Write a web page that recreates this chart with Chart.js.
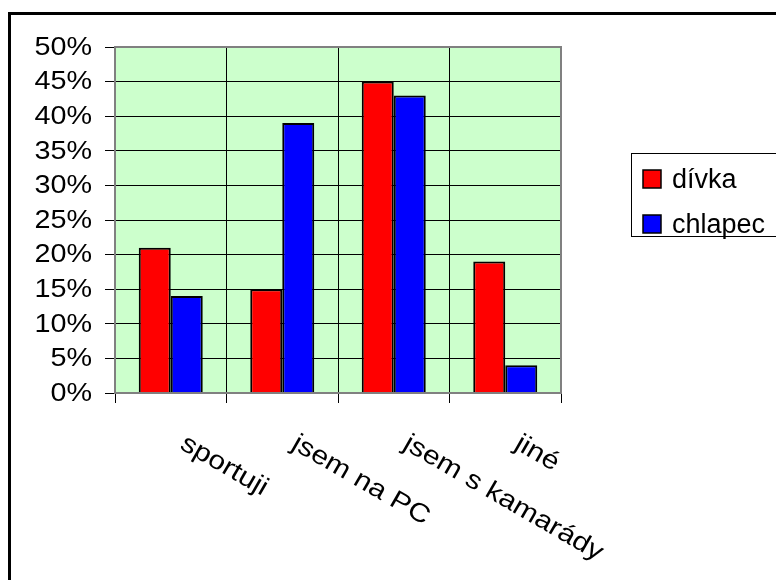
<!DOCTYPE html>
<html>
<head>
<meta charset="utf-8">
<script src="https://cdn.jsdelivr.net/npm/chart.js@4/dist/chart.umd.min.js"></script>
<style>
  html, body { margin: 0; padding: 0; background: #ffffff; }
  #wrap { width: 776px; height: 580px; }
</style>
</head>
<body>
<div id="wrap"><canvas id="c" width="776" height="580"></canvas></div>
<script>
// Co děti dělají ve volném čase – podíl odpovědí podle pohlaví
const categories = ['sportuji', 'jsem na PC', 'jsem s kamarády', 'jiné'];
const seriesNames = ['dívka', 'chlapec'];
const divka = [21, 15, 45, 19];
const chlapec = [14, 39, 43, 4];
const yTicks = [0, 5, 10, 15, 20, 25, 30, 35, 40, 45, 50];

const FONT = "'Liberation Sans', Arial, sans-serif";
const STRETCH = 1.15; // text is set slightly wide

// Frame, plot background, axis texts and legend
const decor = {
  id: 'decor',
  beforeDraw(chart) {
    const { ctx, chartArea: a } = chart;
    ctx.save();
    ctx.fillStyle = '#ffffff';
    ctx.fillRect(0, 0, chart.width, chart.height);
    ctx.fillStyle = '#CCFFCC';
    ctx.fillRect(a.left, a.top, a.right - a.left, a.bottom - a.top);
    ctx.restore();
  },
  afterDraw(chart) {
    const { ctx, chartArea: a } = chart;
    ctx.save();
    // outer frame
    ctx.strokeStyle = '#000000';
    ctx.lineWidth = 3;
    ctx.strokeRect(9.5, 13.5, 900, 700);

    // plot area border
    ctx.strokeStyle = '#808080';
    ctx.lineWidth = 2;
    ctx.strokeRect(a.left, a.top, a.right - a.left, a.bottom - a.top);

    ctx.fillStyle = '#000000';

    // value axis labels
    const ys = chart.scales.y;
    ctx.font = '25px ' + FONT;
    ctx.textAlign = 'right';
    ctx.textBaseline = 'middle';
    yTicks.forEach(v => {
      ctx.save();
      ctx.translate(92, ys.getPixelForValue(v) + 1);
      ctx.scale(STRETCH, 1);
      ctx.fillText(v + '%', 0, 0);
      ctx.restore();
    });

    // category labels, slanted downwards
    const xs = chart.scales.x;
    ctx.font = '26px ' + FONT;
    ctx.textAlign = 'left';
    ctx.textBaseline = 'alphabetic';
    categories.forEach((lab, i) => {
      const px = xs.getPixelForValue(i);
      ctx.save();
      ctx.translate(px + 8, 448);
      ctx.rotate(30 * Math.PI / 180);
      ctx.scale(STRETCH, 1);
      ctx.fillText(lab, 0, 0);
      ctx.restore();
    });

    // legend
    ctx.strokeStyle = '#000000';
    ctx.lineWidth = 1;
    ctx.strokeRect(631.5, 153.5, 300, 83);
    chart.data.datasets.forEach((ds, i) => {
      const y = 170 + i * 45;
      ctx.fillStyle = ds.backgroundColor;
      ctx.fillRect(643, y, 18, 18);
      ctx.lineWidth = 1.5;
      ctx.strokeStyle = '#000000';
      ctx.strokeRect(643, y, 18, 18);
      ctx.fillStyle = '#000000';
      ctx.font = '27px ' + FONT;
      ctx.textAlign = 'left';
      ctx.textBaseline = 'alphabetic';
      ctx.fillText(ds.label, 672, y + 18);
    });
    ctx.restore();
  }
};

new Chart(document.getElementById('c'), {
  type: 'bar',
  data: {
    labels: categories,
    datasets: [
      { label: seriesNames[0], data: divka, backgroundColor: '#FF0000', borderColor: '#000000', borderWidth: 2 },
      { label: seriesNames[1], data: chlapec, backgroundColor: '#0000FF', borderColor: '#000000', borderWidth: 2 }
    ]
  },
  options: {
    responsive: false,
    animation: false,
    devicePixelRatio: 1,
    layout: { padding: { left: 0, top: 47, right: 215, bottom: 177 } },
    plugins: { legend: { display: false }, tooltip: { enabled: false } },
    datasets: { bar: { categoryPercentage: 0.574, barPercentage: 1.0 } },
    scales: {
      x: {
        offset: true,
        grid: { display: true, offset: true, color: '#000000', lineWidth: 1, drawTicks: true, tickLength: 10, tickColor: '#000000' },
        border: { display: true, color: '#808080', width: 2 },
        ticks: { display: false },
        afterFit(scale) { scale.height = 10; }
      },
      y: {
        min: 0,
        max: 50,
        afterBuildTicks(scale) { scale.ticks = yTicks.map(v => ({ value: v })); },
        grid: { color: '#000000', lineWidth: 1, drawTicks: true, tickLength: 10, tickColor: '#000000' },
        border: { display: true, color: '#808080', width: 2 },
        ticks: { display: false },
        afterFit(scale) { scale.width = 115; }
      }
    }
  },
  plugins: [decor]
});
</script>
</body>
</html>
